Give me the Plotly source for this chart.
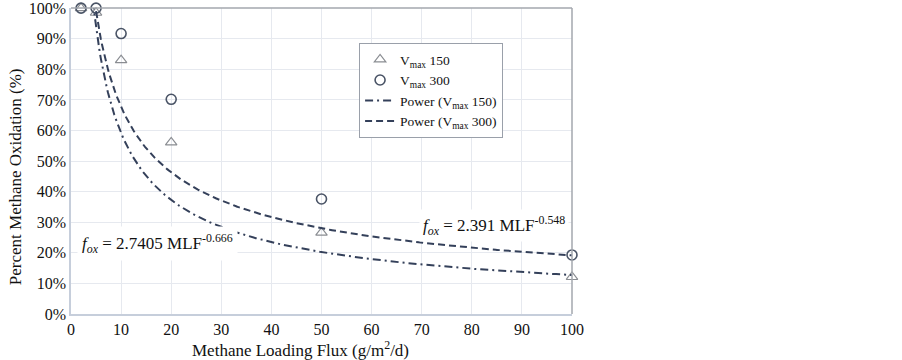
import numpy as np
import plotly.graph_objects as go

# ---- data ----
flux = [2, 5, 10, 20, 50, 100]
ox_vmax150 = [1.00, 0.985, 0.83, 0.561, 0.266, 0.121]
ox_vmax300 = [1.00, 1.00, 0.917, 0.702, 0.376, 0.193]

# power trendlines as printed on the chart: f = a * MLF^b
fit150_a, fit150_b = 2.7405, -0.666
fit300_a, fit300_b = 2.391, -0.548

x_ticks = [0, 10, 20, 30, 40, 50, 60, 70, 80, 90, 100]
y_ticks = [0, 0.1, 0.2, 0.3, 0.4, 0.5, 0.6, 0.7, 0.8, 0.9, 1.0]
y_tick_labels = ["0%", "10%", "20%", "30%", "40%", "50%", "60%", "70%",
                 "80%", "90%", "100%"]

xf = np.linspace(2, 100, 400)
fit150 = fit150_a * xf ** fit150_b
fit300 = fit300_a * xf ** fit300_b

FONT = "Liberation Serif, Times New Roman, serif"
LINE_C = "#34405a"

fig = go.Figure()
fig.add_trace(go.Scatter(
    x=flux, y=ox_vmax150, mode="markers", name="V<sub>max</sub> 150",
    marker=dict(symbol="triangle-up-open", size=10, color="#8a8d92",
                line=dict(width=1.2)),
    cliponaxis=False))
fig.add_trace(go.Scatter(
    x=flux, y=ox_vmax300, mode="markers", name="V<sub>max</sub> 300",
    marker=dict(symbol="circle-open", size=10, color="#4a5466",
                line=dict(width=1.6)),
    cliponaxis=False))
fig.add_trace(go.Scatter(
    x=xf, y=fit150, mode="lines", name="Power (V<sub>max</sub> 150)",
    line=dict(color=LINE_C, width=2, dash="8px,4px,2px,4px")))
fig.add_trace(go.Scatter(
    x=xf, y=fit300, mode="lines", name="Power (V<sub>max</sub> 300)",
    line=dict(color=LINE_C, width=2, dash="7px,4px")))

fig.add_annotation(
    x=1.2, y=0.232, xref="x", yref="y", xanchor="left", yanchor="middle",
    text="<i>f</i><sub><i>ox</i></sub> = 2.7405 MLF<sup>-0.666</sup>",
    showarrow=False, bgcolor="white", borderpad=4,
    font=dict(family=FONT, size=17, color="#111"))
fig.add_annotation(
    x=69.5, y=0.288, xref="x", yref="y", xanchor="left", yanchor="middle",
    text="<i>f</i><sub><i>ox</i></sub> = 2.391 MLF<sup>-0.548</sup>",
    showarrow=False, bgcolor="white", borderpad=3,
    font=dict(family=FONT, size=17, color="#111"))

# axis titles
fig.add_annotation(
    x=0.459, y=-0.115, xref="paper", yref="paper", xanchor="center",
    yanchor="middle", showarrow=False,
    text="Methane Loading Flux (g/m<sup>2</sup>/d)",
    font=dict(family=FONT, size=17, color="#111"))
fig.add_annotation(
    x=-0.112, y=0.45, xref="paper", yref="paper", xanchor="center",
    yanchor="middle", showarrow=False, textangle=-90,
    text="Percent Methane Oxidation (%)",
    font=dict(family=FONT, size=17, color="#111"))

# top and right frame lines
fig.add_shape(type="line", xref="paper", yref="paper", x0=0, x1=1, y0=1, y1=1,
              line=dict(color="#a3a7ae", width=1.5))
fig.add_shape(type="line", xref="paper", yref="paper", x0=1, x1=1, y0=0, y1=1,
              line=dict(color="#a3a7ae", width=1.5))

fig.update_layout(
    width=902, height=360,
    margin=dict(l=71, r=330, t=8, b=46),
    paper_bgcolor="white", plot_bgcolor="white",
    font=dict(family=FONT, size=16, color="#111"),
    showlegend=True,
    legend=dict(x=0.575, y=0.885, xanchor="left", yanchor="top",
                bgcolor="white", bordercolor="#9aa0aa", borderwidth=1,
                font=dict(family=FONT, size=13.5, color="#111"),
                itemwidth=30, tracegroupgap=0),
    xaxis=dict(range=[0, 100], tickvals=x_ticks, ticks="", automargin=False,
               showgrid=True, gridcolor="#e6e9ef", gridwidth=1,
               showline=True, linecolor="#c6cedb", linewidth=1.5,
               zeroline=False, tickfont=dict(family=FONT, size=16),
               ticklabeloverflow="allow"),
    yaxis=dict(range=[0, 1.0005], tickvals=y_ticks, ticktext=y_tick_labels,
               ticks="", automargin=False, ticklabeloverflow="allow",
               showgrid=True, gridcolor="#e6e9ef", gridwidth=1,
               showline=True, linecolor="#c6cedb", linewidth=1.5,
               zeroline=False, tickfont=dict(family=FONT, size=16)),
)

fig.write_html("out.html",
               config={"displayModeBar": False},
               post_script="document.body.style.margin='0';"
                           "document.body.style.overflow='hidden';")
